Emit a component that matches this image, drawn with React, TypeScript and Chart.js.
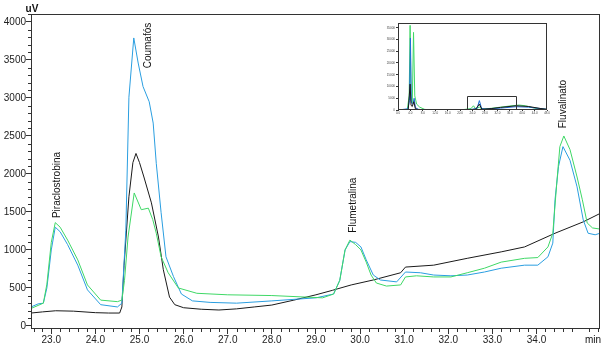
import React, { useEffect, useRef } from "react";
import { Chart, registerables } from "chart.js";

Chart.register(...registerables);

const FONT = "Arial, 'Liberation Sans', sans-serif";

// ---- main chromatogram data (time in min, signal in uV) ----
const blackTimes = [22.54, 22.8, 23.1, 23.5, 24.0, 24.3, 24.55, 24.6, 24.65, 24.76, 24.85, 24.92, 25.0, 25.1, 25.27, 25.43, 25.54, 25.68, 25.8, 26.0, 26.4, 26.8, 27.2, 27.6, 28.0, 28.5, 29.0, 29.38, 29.8, 30.3, 30.92, 31.03, 31.67, 32.43, 33.2, 33.73, 34.42, 35.06, 35.44];
const blackValues = [170, 185, 200, 195, 175, 170, 170, 250, 800, 1700, 2150, 2270, 2150, 1960, 1620, 1170, 740, 380, 280, 240, 220, 210, 225, 250, 275, 340, 410, 470, 540, 605, 700, 775, 800, 890, 975, 1040, 1220, 1370, 1480];

const blueTimes = [22.54, 22.7, 22.82, 22.9, 23.0, 23.09, 23.2, 23.37, 23.6, 23.82, 24.12, 24.5, 24.6, 24.69, 24.76, 24.87, 24.97, 25.08, 25.22, 25.31, 25.38, 25.49, 25.6, 25.77, 25.95, 26.2, 26.6, 27.2, 28.0, 29.0, 29.4, 29.54, 29.66, 29.77, 29.9, 30.02, 30.14, 30.3, 30.46, 30.83, 31.03, 31.37, 31.67, 32.06, 32.43, 32.82, 33.2, 33.73, 34.03, 34.26, 34.37, 34.42, 34.5, 34.6, 34.76, 34.92, 35.06, 35.17, 35.33, 35.44];
const blueValues = [250, 290, 300, 500, 1000, 1300, 1240, 1070, 800, 475, 280, 250, 300, 1260, 3010, 3790, 3460, 3150, 2950, 2670, 2140, 1490, 910, 650, 420, 330, 310, 300, 330, 370, 420, 600, 1000, 1110, 1100, 1040, 870, 670, 605, 580, 710, 700, 670, 660, 670, 710, 760, 800, 800, 910, 1090, 1660, 2100, 2360, 2180, 1830, 1395, 1220, 1200, 1220];

const greenTimes = [22.54, 22.7, 22.82, 22.9, 23.0, 23.09, 23.2, 23.37, 23.6, 23.82, 24.12, 24.5, 24.6, 24.66, 24.74, 24.88, 25.04, 25.2, 25.3, 25.38, 25.49, 25.65, 25.88, 26.3, 27.0, 28.0, 29.15, 29.4, 29.54, 29.66, 29.77, 29.9, 30.02, 30.14, 30.25, 30.37, 30.6, 30.92, 31.03, 31.28, 31.67, 32.06, 32.43, 32.82, 33.2, 33.73, 34.03, 34.26, 34.37, 34.46, 34.53, 34.62, 34.76, 34.92, 35.04, 35.15, 35.27, 35.44];
const greenValues = [230, 270, 300, 550, 1100, 1360, 1300, 1130, 870, 540, 340, 320, 340, 600, 1170, 1750, 1530, 1550, 1400, 1220, 910, 700, 500, 430, 410, 400, 370, 420, 600, 1000, 1130, 1070, 1000, 840, 670, 565, 525, 540, 645, 660, 645, 645, 700, 760, 840, 890, 900, 1040, 1220, 1880, 2360, 2500, 2320, 1960, 1660, 1355, 1290, 1275];

const xTickValues = [23, 24, 25, 26, 27, 28, 29, 30, 31, 32, 33, 34];
const yTickValues = [0, 500, 1000, 1500, 2000, 2500, 3000, 3500, 4000];

const peakNames = ["Piraclostrobina", "Coumafós", "Flumetralina", "Fluvalinato"];
const peakLabelTimes = [23.14, 25.2, 29.84, 34.6];
const peakLabelValues = [1855, 3690, 1590, 2920];

// ---- inset (full run overview) ----
const insetGreenTimes = [0, 3.0, 3.6, 3.9, 4.2, 4.6, 5.0, 5.4, 6.0, 7.0, 8.5, 10, 20, 23.5, 24.3, 25, 26.2, 27, 30, 33, 36, 39, 41, 44, 48];
const insetGreenValues = [0, 300, 6000, 36000, 4000, 3000, 33000, 6000, 2500, 1200, 300, 0, 0, 600, 1800, 500, 1200, 400, 700, 1200, 1700, 2100, 1800, 800, 200];
const insetBlueTimes = [0, 3.2, 3.7, 4.0, 4.3, 4.8, 5.2, 5.6, 6.5, 9, 20, 24, 25.5, 26.2, 26.9, 28, 33, 38, 42, 48];
const insetBlueValues = [0, 500, 4000, 30600, 3000, 2500, 5000, 1000, 300, 0, 0, 300, 800, 4000, 700, 400, 800, 1400, 1200, 300];
const insetBlackTimes = [0, 3.3, 3.9, 4.2, 4.6, 5.1, 5.6, 7, 20, 25, 26.2, 27, 30, 33, 38, 42, 46, 48];
const insetBlackValues = [0, 200, 11000, 2000, 1500, 3500, 500, 0, 0, 300, 2500, 300, 600, 1100, 1800, 1500, 600, 300];
const insetXTicks = [0, 4, 8, 12, 16, 20, 24, 28, 32, 36, 40, 44, 48];
const insetYTicks = [0, 5000, 10000, 15000, 20000, 25000, 30000, 35000];
const insetBoxFrom = 22.1;
const insetBoxTo = 38.1;
const insetBoxTop = 6000;

const BLACK = "#1a1a1a";
const BLUE = "#2a9ee0";
const GREEN = "#3fd866";

function pts(ts: number[], vs: number[]) {
  return ts.map((t, i) => ({ x: t, y: vs[i] }));
}

function lineDs(label: string, ts: number[], vs: number[], color: string) {
  return {
    label,
    data: pts(ts, vs),
    borderColor: color,
    borderWidth: 1,
    pointRadius: 0,
    tension: 0,
    fill: false,
  };
}

const mainPlugin = {
  id: "mainDecor",
  afterDraw(chart: any) {
    const { ctx, chartArea, scales } = chart;
    const { left, right, top, bottom } = chartArea;
    const x = scales.x;
    const y = scales.y;
    ctx.save();
    ctx.strokeStyle = "#333";
    ctx.lineWidth = 1;
    ctx.strokeRect(Math.round(left) + 0.5, Math.round(top) + 0.5, Math.round(right - left) - 1, Math.round(bottom - top) - 1);
    // minor ticks
    ctx.beginPath();
    for (let i = Math.ceil(x.min * 5); i <= Math.floor(x.max * 5); i++) {
      if (i % 5 === 0) continue;
      const px = Math.round(x.getPixelForValue(i / 5)) + 0.5;
      ctx.moveTo(px, bottom);
      ctx.lineTo(px, bottom + 3);
    }
    for (let v = 100; v <= y.max; v += 100) {
      if (v % 500 === 0) continue;
      const py = Math.round(y.getPixelForValue(v)) + 0.5;
      ctx.moveTo(left - 3, py);
      ctx.lineTo(left, py);
    }
    ctx.stroke();
    // axis titles
    ctx.fillStyle = "#111";
    ctx.font = "bold 10px " + FONT;
    ctx.textAlign = "center";
    ctx.textBaseline = "middle";
    ctx.fillText("uV", left + 1, 9);
    ctx.font = "10px " + FONT;
    ctx.fillText("min", right - 7, 340);
    // peak names
    ctx.font = "10px " + FONT;
    ctx.fillStyle = "#111";
    peakNames.forEach((name, i) => {
      ctx.save();
      ctx.translate(x.getPixelForValue(peakLabelTimes[i]), y.getPixelForValue(peakLabelValues[i]));
      ctx.rotate(-Math.PI / 2);
      ctx.fillText(name, 0, 0);
      ctx.restore();
    });
    ctx.restore();
  },
};

const insetPlugin = {
  id: "insetDecor",
  beforeDraw(chart: any) {
    const { ctx, chartArea } = chart;
    ctx.save();
    ctx.fillStyle = "#fff";
    ctx.fillRect(chartArea.left, chartArea.top, chartArea.right - chartArea.left, chartArea.bottom - chartArea.top);
    ctx.restore();
  },
  afterDraw(chart: any) {
    const { ctx, chartArea, scales } = chart;
    const { left, right, top, bottom } = chartArea;
    ctx.save();
    ctx.strokeStyle = "#333";
    ctx.lineWidth = 1;
    ctx.strokeRect(Math.round(left) + 0.5, Math.round(top) + 0.5, Math.round(right - left) - 1, Math.round(bottom - top) - 1);
    const bx1 = Math.round(scales.x.getPixelForValue(insetBoxFrom)) + 0.5;
    const bx2 = Math.round(scales.x.getPixelForValue(insetBoxTo)) + 0.5;
    const by = Math.round(scales.y.getPixelForValue(insetBoxTop)) + 0.5;
    ctx.beginPath();
    ctx.moveTo(bx1, bottom);
    ctx.lineTo(bx1, by);
    ctx.lineTo(bx2, by);
    ctx.lineTo(bx2, bottom);
    ctx.stroke();
    ctx.restore();
  },
};

export default function App() {
  const mainRef = useRef<HTMLCanvasElement>(null);
  const insetRef = useRef<HTMLCanvasElement>(null);

  useEffect(() => {
    document.body.style.margin = "0";
    const main = new Chart(mainRef.current as HTMLCanvasElement, {
      type: "line",
      data: {
        datasets: [
          lineDs("green", greenTimes, greenValues, GREEN),
          lineDs("blue", blueTimes, blueValues, BLUE),
          lineDs("black", blackTimes, blackValues, BLACK),
        ],
      },
      options: {
        responsive: false,
        animation: false,
        devicePixelRatio: 1,
        layout: { padding: { left: 0, top: 14, right: 10, bottom: 0 } },
        plugins: { legend: { display: false }, tooltip: { enabled: false } },
        scales: {
          x: {
            type: "linear",
            min: 22.54,
            max: 35.44,
            afterBuildTicks: (s: any) => {
              s.ticks = xTickValues.map((v) => ({ value: v }));
            },
            afterFit: (s: any) => {
              s.height = 21;
            },
            ticks: {
              callback: (v: any) => Number(v).toFixed(1),
              font: { family: FONT, size: 10 },
              color: "#222",
              padding: 0,
              maxRotation: 0,
              autoSkip: false,
            },
            grid: { drawOnChartArea: false, drawTicks: true, tickLength: 5, color: "#333" },
            border: { display: false },
          },
          y: {
            type: "linear",
            min: -40,
            max: 4105,
            afterBuildTicks: (s: any) => {
              s.ticks = yTickValues.map((v) => ({ value: v }));
            },
            afterFit: (s: any) => {
              s.width = 31;
            },
            ticks: {
              callback: (v: any) => String(v),
              font: { family: FONT, size: 10 },
              color: "#222",
              padding: 0,
              autoSkip: false,
            },
            grid: { drawOnChartArea: false, drawTicks: true, tickLength: 5, color: "#333" },
            border: { display: false },
          },
        },
      },
      plugins: [mainPlugin],
    } as any);

    const inset = new Chart(insetRef.current as HTMLCanvasElement, {
      type: "line",
      data: {
        datasets: [
          lineDs("black", insetBlackTimes, insetBlackValues, BLACK),
          lineDs("blue", insetBlueTimes, insetBlueValues, "#1f6fd8"),
          lineDs("green", insetGreenTimes, insetGreenValues, GREEN),
        ],
      },
      options: {
        responsive: false,
        animation: false,
        devicePixelRatio: 1,
        layout: { padding: { left: 0, top: 5, right: 2, bottom: 0 } },
        plugins: { legend: { display: false }, tooltip: { enabled: false } },
        scales: {
          x: {
            type: "linear",
            min: 0,
            max: 48,
            afterBuildTicks: (s: any) => {
              s.ticks = insetXTicks.map((v) => ({ value: v }));
            },
            afterFit: (s: any) => {
              s.height = 6;
            },
            ticks: {
              callback: (v: any) => Number(v).toFixed(1),
              font: { family: FONT, size: 3 },
              color: "#444",
              padding: 0,
              maxRotation: 0,
              autoSkip: false,
            },
            grid: { drawOnChartArea: false, drawTicks: true, tickLength: 1, color: "#333" },
            border: { display: false },
          },
          y: {
            type: "linear",
            min: 0,
            max: 37000,
            afterBuildTicks: (s: any) => {
              s.ticks = insetYTicks.map((v) => ({ value: v }));
            },
            afterFit: (s: any) => {
              s.width = 12;
            },
            ticks: {
              callback: (v: any) => String(v),
              font: { family: FONT, size: 3 },
              color: "#444",
              padding: 1,
              autoSkip: false,
            },
            grid: { drawOnChartArea: false, drawTicks: true, tickLength: 2, color: "#333" },
            border: { display: false },
          },
        },
      },
      plugins: [insetPlugin],
    } as any);

    return () => {
      main.destroy();
      inset.destroy();
    };
  }, []);

  return (
    <div style={{ position: "relative", width: 610, height: 350, background: "#fff" }}>
      <canvas ref={mainRef} width={610} height={350} style={{ position: "absolute", left: 0, top: 0 }} />
      <canvas ref={insetRef} width={164} height={98} style={{ position: "absolute", left: 386, top: 18 }} />
    </div>
  );
}
